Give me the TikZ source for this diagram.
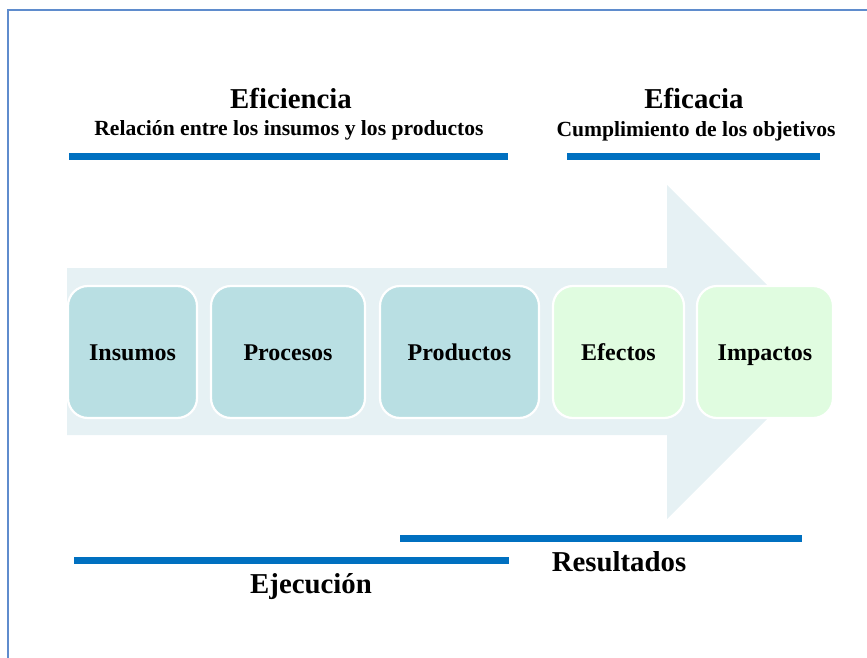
\documentclass[tikz,border=0pt]{standalone}
\usepackage{fontspec}
\setmainfont{Liberation Serif}
\definecolor{framecol}{RGB}{95,140,205}
\definecolor{barcol}{RGB}{0,112,192}
\definecolor{arrowcol}{RGB}{230,241,244}
\definecolor{cyanbox}{RGB}{185,223,227}
\definecolor{greenbox}{RGB}{224,252,224}
\tikzset{
  boxbase/.style={draw=white, line width=2.2pt, rounded corners=20pt, inner sep=0pt},
  cbox/.style={boxbase, fill=cyanbox},
  gbox/.style={boxbase, fill=greenbox},
  lbl/.style={font=\bfseries\fontsize{24}{28}\selectfont, anchor=base, inner sep=0pt},
  ttl/.style={font=\bfseries\fontsize{28.8}{33}\selectfont, anchor=base, inner sep=0pt},
  sub/.style={font=\bfseries\fontsize{21.6}{25}\selectfont, anchor=base, inner sep=0pt},
  bar/.style={barcol, line width=7pt},
}
\begin{document}
\begin{tikzpicture}[x=1pt,y=-1pt]
\useasboundingbox (0,0) rectangle (867,658);
% frame (top and left sides visible)
\draw[framecol, line width=2pt] (8,658) -- (8,10) -- (867,10);
% big arrow
\fill[arrowcol] (67,268) -- (667,268) -- (667,185) -- (834,352) -- (667,519) -- (667,435) -- (67,435) -- cycle;
% boxes
\node[cbox, minimum width=129pt, minimum height=132pt] (ins) at (132.5,352) {};
\node[cbox, minimum width=154pt, minimum height=132pt] (pro) at (288,352) {};
\node[cbox, minimum width=159pt, minimum height=132pt] (prd) at (459.5,352) {};
\node[gbox, minimum width=131pt, minimum height=132pt] (efe) at (618.5,352) {};
\node[gbox, minimum width=136pt, minimum height=132pt] (imp) at (765,352) {};
\node[lbl] (tins) at ([yshift=-8pt]ins.center) {Insumos};
\node[lbl] (tpro) at ([yshift=-8pt]pro.center) {Procesos};
\node[lbl] (tprd) at ([yshift=-8pt]prd.center) {Productos};
\node[lbl] (tefe) at ([yshift=-8pt]efe.center) {Efectos};
\node[lbl] (timp) at ([yshift=-8pt]imp.center) {Impactos};
% top headings
\node[ttl] (efi) at (291,108.5) {Eficiencia};
\node[sub] (efis) at (289,135.5) {Relación entre los insumos y los productos};
\node[ttl] (efc) at (694,109) {Eficacia};
\node[sub] (efcs) at (696,136) {Cumplimiento de los objetivos};
\draw[bar] (69,156) -- (508,156);
\draw[bar] (567,156) -- (820,156);
% bottom
\draw[bar] (400,538.5) -- (802,538.5);
\draw[bar] (74,560.5) -- (509,560.5);
\node[ttl] (eje) at (311,593) {Ejecución};
\node[ttl] (res) at (619,571.5) {Resultados};
\end{tikzpicture}
\end{document}
